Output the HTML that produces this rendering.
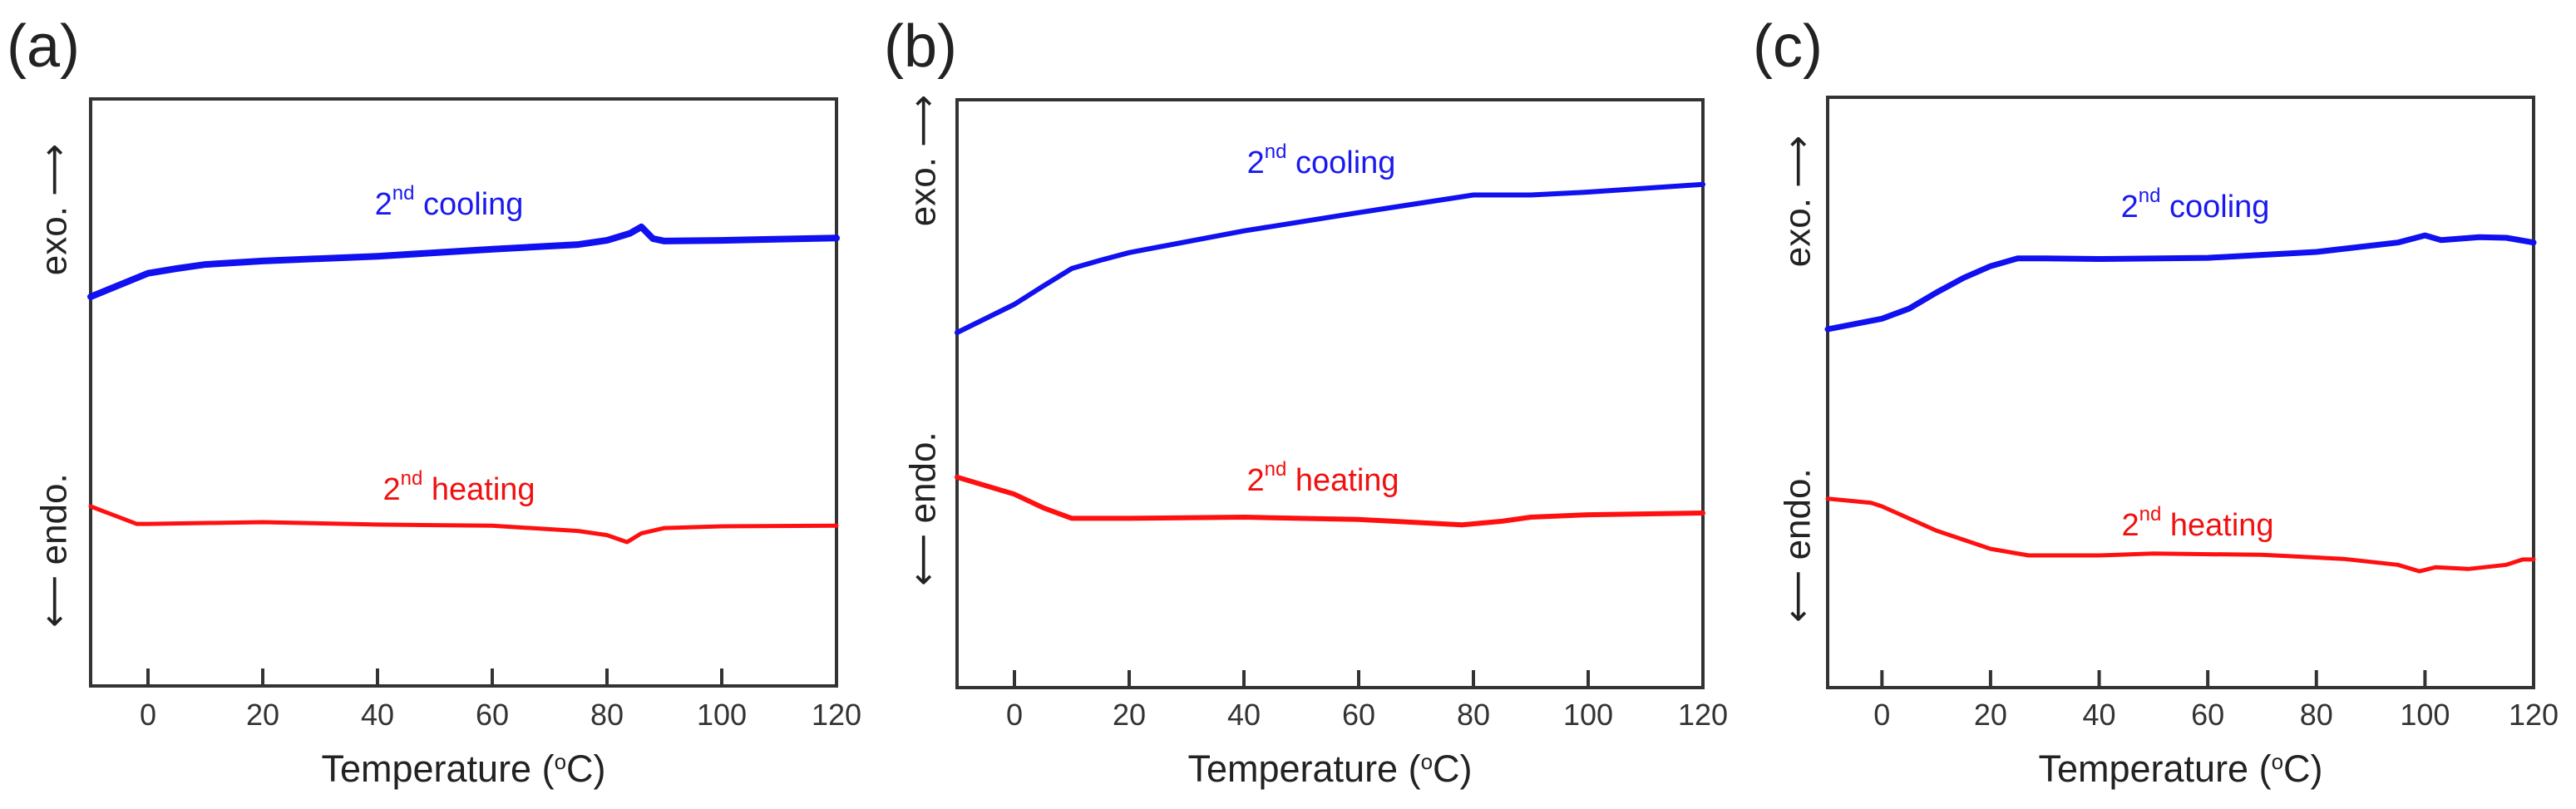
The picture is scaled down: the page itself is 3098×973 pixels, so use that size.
<!DOCTYPE html>
<html><head><meta charset="utf-8"><style>
html,body{margin:0;padding:0;background:#fff;}
svg{display:block;font-family:"Liberation Sans",Arial,sans-serif;}
</style></head><body>
<svg id="fig" width="3098" height="973" viewBox="0 0 3098 973"></svg>
<script>
// x-axis ticks (°C)
const tickValues = [0, 20, 40, 60, 80, 100, 120];
// Panel (a)
const aCoolT = [-10, 0, 5, 10, 20, 40, 60, 75, 80, 84, 86, 88, 90, 100, 120];
const aCoolV = [66.3, 70.3, 71.1, 71.8, 72.4, 73.2, 74.4, 75.2, 75.9, 77.1, 78.2, 76.2, 75.8, 75.9, 76.3];
const aHeatT = [-10, -2, 0, 20, 40, 60, 75, 80, 83.5, 86, 90, 100, 120];
const aHeatV = [30.6, 27.6, 27.6, 27.9, 27.5, 27.3, 26.4, 25.7, 24.5, 26.0, 26.9, 27.2, 27.3];
// Panel (b)
const bCoolT = [-10, 0, 5, 10, 15, 20, 40, 60, 80, 90, 100, 120];
const bCoolV = [60.4, 65.2, 68.3, 71.3, 72.7, 74.0, 77.7, 80.8, 83.8, 83.8, 84.3, 85.6];
const bHeatT = [-10, 0, 5, 10, 20, 40, 60, 78, 85, 90, 100, 120];
const bHeatV = [35.8, 32.9, 30.6, 28.8, 28.8, 29.0, 28.6, 27.7, 28.3, 29.0, 29.4, 29.7];
// Panel (c)
const cCoolT = [-10, 0, 5, 10, 15, 20, 25, 30, 40, 60, 80, 95, 100, 103, 110, 115, 120];
const cCoolV = [60.7, 62.5, 64.2, 66.9, 69.4, 71.4, 72.7, 72.7, 72.6, 72.8, 73.8, 75.4, 76.6, 75.8, 76.3, 76.2, 75.4];
const cHeatT = [-10, -2, 0, 10, 20, 27, 40, 50, 70, 85, 95, 99, 102, 108, 115, 118, 120];
const cHeatV = [32.0, 31.3, 30.7, 26.6, 23.5, 22.4, 22.4, 22.7, 22.5, 21.8, 20.8, 19.7, 20.4, 20.1, 20.8, 21.7, 21.7];

const NS = "http://www.w3.org/2000/svg";
const svg = document.getElementById("fig");
function mk(tag, attrs, parent){
  const e = document.createElementNS(NS, tag);
  for (const k in attrs) e.setAttribute(k, attrs[k]);
  (parent||svg).appendChild(e);
  return e;
}
const panels = [
  {id:"a", x0:109, x1:1006, y0:119, y1:825, coolT:aCoolT, coolV:aCoolV, heatT:aHeatT, heatV:aHeatV, cw:8, hw:5,
   lab:[8,18], ylx:65, exoY:252, endoY:662, cool:[540,246], heat:[552,589]},
  {id:"b", x0:1151, x1:2048, y0:120, y1:827, coolT:bCoolT, coolV:bCoolV, heatT:bHeatT, heatV:bHeatV, cw:6, hw:6,
   lab:[1063,18], ylx:1110, exoY:193, endoY:612, cool:[1589,196], heat:[1591,578]},
  {id:"c", x0:2198, x1:3047, y0:117, y1:827, coolT:cCoolT, coolV:cCoolV, heatT:cHeatT, heatV:cHeatV, cw:7, hw:5,
   lab:[2108,18], ylx:2162, exoY:242, endoY:656, cool:[2640,249], heat:[2643,632]}
];
panels.forEach(p => {
  const g = mk("g", {});
  
  
  const xs = t => p.x0 + (t + 10) / 130 * (p.x1 - p.x0);
  const ys = v => p.y1 - v / 100 * (p.y1 - p.y0);
  const pl = mk("text", {x:p.lab[0], y:p.lab[1]+62, "font-size":72, fill:"#222"}, g);
  pl.textContent = "(" + p.id + ")";
  
  
  const fr = mk("rect", {x:p.x0, y:p.y0, width:p.x1-p.x0, height:p.y1-p.y0, fill:"none", stroke:"#333", "stroke-width":4}, g);
  
  
  tickValues.forEach(t => {
    const x = xs(t);
    if (t < 120) {
      const tk = mk("line", {x1:x, x2:x, y1:p.y1, y2:p.y1-21, stroke:"#333", "stroke-width":4}, g);
      
      
    }
    const tl = mk("text", {x:x, y:872, "font-size":36, fill:"#333", "text-anchor":"middle"}, g);
    tl.textContent = t;
    
    
  });
  const xt = mk("text", {x:(p.x0+p.x1)/2, y:940, "font-size":45, fill:"#222", "text-anchor":"middle"}, g);
  xt.innerHTML = 'Temperature (<tspan baseline-shift="super" font-size="26">o</tspan>C)';
  
  
  const ex = mk("text", {x:p.ylx, y:p.exoY, "font-size":44, fill:"#222", "font-family":"'Liberation Sans','DejaVu Sans',sans-serif", "text-anchor":"middle", "dominant-baseline":"central", transform:"rotate(-90 "+p.ylx+" "+p.exoY+")"}, g);
  ex.textContent = "exo. \u27F6";
  
  
  const en = mk("text", {x:p.ylx, y:p.endoY, "font-size":44, fill:"#222", "font-family":"'Liberation Sans','DejaVu Sans',sans-serif", "text-anchor":"middle", "dominant-baseline":"central", transform:"rotate(-90 "+p.ylx+" "+p.endoY+")"}, g);
  en.textContent = "\u27F5 endo.";
  
  
  const path = (T, V) => T.map((t,i)=>(i?"L":"M")+xs(t).toFixed(1)+","+ys(V[i]).toFixed(1)).join(" ");
  const cl = mk("path", {d:path(p.coolT,p.coolV), fill:"none", stroke:"#1010f0", "stroke-width":p.cw, "stroke-linejoin":"round", "stroke-linecap":"round"}, g);
  
  
  const hl = mk("path", {d:path(p.heatT,p.heatV), fill:"none", stroke:"#ff1010", "stroke-width":p.hw, "stroke-linejoin":"round", "stroke-linecap":"round"}, g);
  
  
  const ct = mk("text", {x:p.cool[0], y:p.cool[1], "font-size":38, fill:"#1a1aee", "text-anchor":"middle", "dominant-baseline":"central"}, g);
  ct.innerHTML = '2<tspan baseline-shift="super" font-size="24">nd</tspan> cooling';
  
  
  const ht = mk("text", {x:p.heat[0], y:p.heat[1], "font-size":38, fill:"#f01010", "text-anchor":"middle", "dominant-baseline":"central"}, g);
  ht.innerHTML = '2<tspan baseline-shift="super" font-size="24">nd</tspan> heating';
  
  
});
</script>
</body></html>
